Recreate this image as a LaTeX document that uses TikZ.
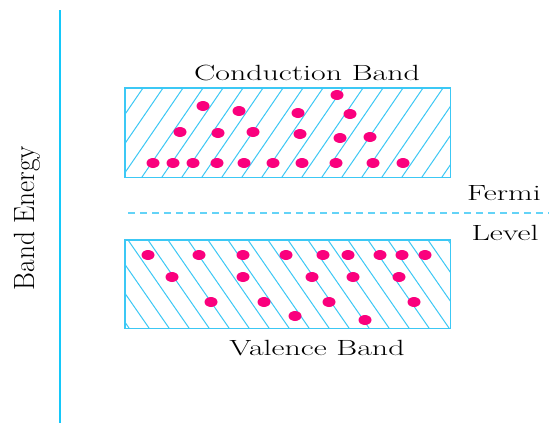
\documentclass[tikz,border=0pt]{standalone}
\usepackage{graphicx}
\definecolor{hatchc}{RGB}{60,200,245}
\definecolor{axisc}{RGB}{20,200,250}
\definecolor{dotc}{RGB}{250,0,125}
\tikzset{
  band/.style={minimum width=325pt, minimum height=89pt, inner sep=0pt, anchor=north west},
  bandedge/.style={draw=hatchc, line width=1.5pt},
  hatchline/.style={draw=hatchc, line width=1pt},
  electron/.style={fill=dotc},
  lab/.style={font=\fontsize{22}{24}\selectfont, inner sep=0pt, text=black},
  axisline/.style={draw=axisc, line width=1.8pt},
  fermiline/.style={draw=hatchc!80, line width=1.3pt, dash pattern=on 7pt off 5pt}
}
\newcommand{\wtext}[1]{\scalebox{1.45}[1]{#1}}
\begin{document}
\begin{tikzpicture}[x=1pt,y=-1pt]
\useasboundingbox (0,0) rectangle (549,426);
\fill[white] (0,0) rectangle (549,426);
% axis
\coordinate (atop) at (60,10);
\coordinate (abot) at (60,423);
\draw[axisline] (atop) -- (abot);
\node[lab, rotate=90] (energy) at (27,218) {\scalebox{1.24}[1.33]{Band Energy}};
% conduction band
\node[band] (cb) at (125,88) {};
\begin{scope}
  \clip (cb.north west) rectangle (cb.south east);
  \foreach \k in {-4,...,18} {
    \draw[hatchline] ({163+20*\k},88) -- ({163+20*\k-61},177);
  }
\end{scope}
\draw[bandedge] (cb.north west) rectangle (cb.south east);
% valence band
\node[band, minimum height=88pt] (vb) at (125,240) {};
\begin{scope}
  \clip (vb.north west) rectangle (vb.south east);
  \foreach \k in {-6,...,15} {
    \draw[hatchline] ({168+20*\k},240) -- ({168+20*\k+61},328);
  }
\end{scope}
\draw[bandedge] (vb.north west) rectangle (vb.south east);
% electrons
\foreach \p in {(153,163),(173,163),(193,163),(217,163),(244,163),(273,163),(302,163),(336,163),(373,163),(403,163),
  (180,132),(218,133),(253,132),(300,134),(340,138),(370,137),
  (203,106),(239,111),(298,113),(350,114),(337,95)} {
  \fill[electron] \p ellipse [x radius=6.5pt, y radius=5pt];
}
\foreach \p in {(148,255),(199,255),(243,255),(286,255),(323,255),(348,255),(380,255),(402,255),(425,255),
  (172,277),(243,277),(312,277),(353,277),(399,277),
  (211,302),(264,302),(329,302),(414,302),(295,316),(365,320)} {
  \fill[electron] \p ellipse [x radius=6.5pt, y radius=5pt];
}
% fermi level
\coordinate (fl) at (128,213);
\coordinate (fr) at (549,213);
\draw[fermiline] (fl) -- (fr);
\node[lab] (fermi) at (504,193) {\wtext{Fermi}};
\node[lab] (level) at (505,233) {\wtext{Level}};
% labels
\node[lab] (cbl) at (307,73) {\wtext{Conduction Band}};
\node[lab] (vbl) at (317,348) {\wtext{Valence Band}};
\end{tikzpicture}
\end{document}
